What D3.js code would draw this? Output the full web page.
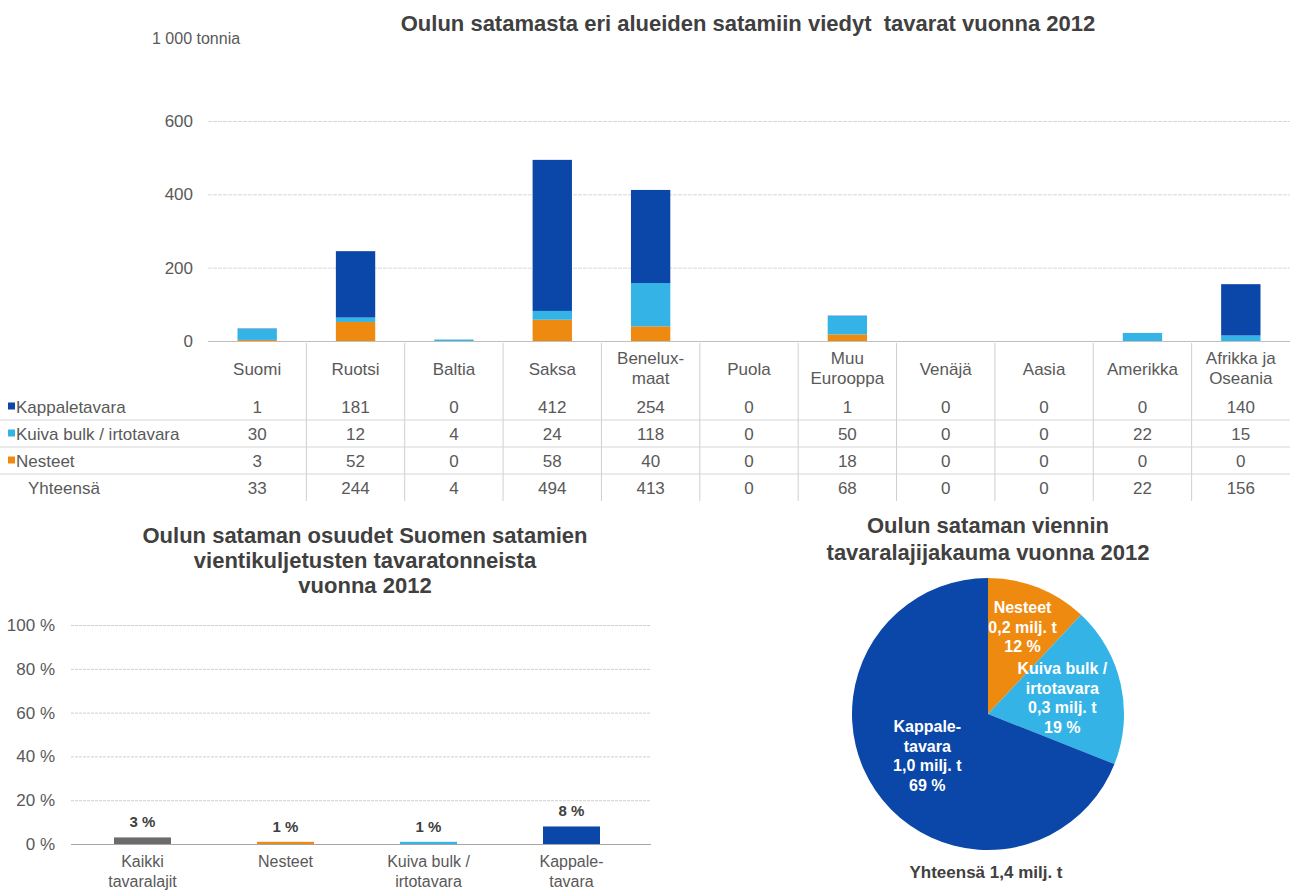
<!DOCTYPE html>
<html lang="fi">
<head>
<meta charset="utf-8">
<script src="https://cdn.jsdelivr.net/npm/d3@7"></script>
<style>
  html, body { margin: 0; padding: 0; background: #fff; }
  svg { display: block; font-family: "Liberation Sans", Arial, sans-serif; }
</style>
</head>
<body>
<svg id="chart" width="1290" height="895"></svg>
<script>
// ---- Data: Oulun sataman vienti 2012 (1 000 tonnia) ----
const regions = ["Suomi", "Ruotsi", "Baltia", "Saksa", "Benelux-\nmaat", "Puola",
                 "Muu\nEurooppa", "Venäjä", "Aasia", "Amerikka", "Afrikka ja\nOseania"];
const kappaletavara = [1, 181, 0, 412, 254, 0, 1, 0, 0, 0, 140];
const kuivaBulk     = [30, 12, 4, 24, 118, 0, 50, 0, 0, 22, 15];
const nesteet       = [3, 52, 0, 58, 40, 0, 18, 0, 0, 0, 0];
const yhteensa      = [33, 244, 4, 494, 413, 0, 68, 0, 0, 22, 156];
const yTicks = [0, 200, 400, 600];

// Osuudet Suomen satamien vientikuljetuksista (%)
const shareCategories = ["Kaikki\ntavaralajit", "Nesteet", "Kuiva bulk /\nirtotavara", "Kappale-\ntavara"];
const shareValues = [3, 1, 1, 8];
const shareTicks = [0, 20, 40, 60, 80, 100];

// Tavaralajijakauma (%)
const pieNames = ["Nesteet", "Kuiva bulk /\nirtotavara", "Kappale-\ntavara"];
const pieShares = [12, 19, 69];
const pieTonnes = ["0,2 milj. t", "0,3 milj. t", "1,0 milj. t"];

const C = { dark: "#0a47a9", light: "#33b3e6", orange: "#ef8a11", gray: "#6b6b6b",
            text: "#595959", title: "#404040", grid: "#d9d9d9" };
const FONT = "Liberation Sans, Arial, sans-serif";

const svg = d3.select("#chart");

// ================= Top: stacked bars with data table =================
const mainArea = { left: 208, right: 1290, y0: 341, y1: 121 };
const x = d3.scaleBand().domain(d3.range(regions.length)).range([mainArea.left, mainArea.right]);
const y = d3.scaleLinear().domain([0, 600]).range([mainArea.y0, mainArea.y1]);

svg.append("text")
  .attr("x", 748).attr("y", 31).attr("text-anchor", "middle")
  .attr("font-size", 22).attr("font-weight", "bold").attr("fill", C.title)
  .attr("xml:space", "preserve")
  .text("Oulun satamasta eri alueiden satamiin viedyt  tavarat vuonna 2012");

svg.append("text")
  .attr("x", 152).attr("y", 44).attr("font-size", 16).attr("fill", C.text)
  .text("1 000 tonnia");

// grid + tick labels
const yAxis = d3.axisLeft(y).tickValues(yTicks).tickSize(-(mainArea.right - mainArea.left)).tickFormat(d3.format("d"));
const gy = svg.append("g").attr("transform", `translate(${mainArea.left},0)`).call(yAxis);
gy.select(".domain").remove();
gy.selectAll(".tick line")
  .attr("stroke", d => d === 0 ? "#bfbfbf" : C.grid)
  .attr("stroke-dasharray", d => d === 0 ? null : "4,1");
gy.selectAll(".tick text").attr("x", -15).attr("font-size", 17).attr("fill", C.text)
  .attr("font-family", FONT);

// stacked bars: Nesteet at the bottom, then Kuiva bulk, then Kappaletavara
const rows = regions.map((r, i) => ({ i, nesteet: nesteet[i], kuiva: kuivaBulk[i], kappale: kappaletavara[i] }));
const stack = d3.stack().keys(["nesteet", "kuiva", "kappale"]);
const seriesColor = { nesteet: C.orange, kuiva: C.light, kappale: C.dark };
const barW = x.bandwidth() * 0.4;
svg.append("g").selectAll("g").data(stack(rows)).join("g")
  .attr("fill", s => seriesColor[s.key])
  .selectAll("rect").data(s => s).join("rect")
  .attr("x", d => x(d.data.i) + (x.bandwidth() - barW) / 2)
  .attr("width", barW)
  .attr("y", d => y(d[1]))
  .attr("height", d => Math.max(0, y(d[0]) - y(d[1])));

// data table
const tableRows = [
  { label: "Kappaletavara", values: kappaletavara, color: C.dark },
  { label: "Kuiva bulk / irtotavara", values: kuivaBulk, color: C.light },
  { label: "Nesteet", values: nesteet, color: C.orange },
  { label: "Yhteensä", values: yhteensa, color: null }
];
const headerTop = 343, headerBottom = 393, rowH = 27;
const table = svg.append("g");

// column separators
table.selectAll("line.col").data(d3.range(1, regions.length)).join("line")
  .attr("x1", i => x(i)).attr("x2", i => x(i))
  .attr("y1", headerTop).attr("y2", headerBottom + rowH * tableRows.length)
  .attr("stroke", "#cfcfcf");
// row separators
table.selectAll("line.row").data(d3.range(1, tableRows.length)).join("line")
  .attr("x1", 0).attr("x2", mainArea.right)
  .attr("y1", k => headerBottom + rowH * k).attr("y2", k => headerBottom + rowH * k)
  .attr("stroke", "#d6d6d6");

// category header
table.selectAll("text.head").data(regions).join("text")
  .attr("text-anchor", "middle").attr("font-size", 17).attr("fill", C.text)
  .attr("x", (d, i) => x(i) + x.bandwidth() / 2)
  .each(function (d) {
    const lines = d.split("\n");
    const t = d3.select(this);
    const y0 = lines.length === 1 ? 375 : 364;
    lines.forEach((ln, k) => t.append("tspan")
      .attr("x", t.attr("x")).attr("y", y0 + k * 20).text(ln));
  });

// table body
tableRows.forEach((r, k) => {
  const cy = headerBottom + rowH * k + rowH / 2 + 6;
  if (r.color) {
    table.append("rect").attr("x", 8).attr("y", cy - 10).attr("width", 7).attr("height", 7).attr("fill", r.color);
  }
  table.append("text").attr("x", r.color ? 16 : 28).attr("y", cy)
    .attr("font-size", 17).attr("fill", C.text).text(r.label);
  table.append("g").selectAll("text").data(r.values).join("text")
    .attr("x", (d, i) => x(i) + x.bandwidth() / 2).attr("y", cy)
    .attr("text-anchor", "middle").attr("font-size", 17).attr("fill", C.text)
    .text(d => d);
});

// ================= Bottom left: shares of Finnish export tonnage =================
const bl = { left: 71, right: 643, y0: 844, y1: 625 };
const xs = d3.scaleBand().domain(d3.range(shareCategories.length)).range([bl.left, bl.right]);
const ys = d3.scaleLinear().domain([0, 100]).range([bl.y0, bl.y1]);
const shareColors = [C.gray, C.orange, C.light, C.dark];

const blTitle = ["Oulun sataman osuudet Suomen satamien", "vientikuljetusten tavaratonneista", "vuonna 2012"];
svg.append("text").attr("text-anchor", "middle").attr("font-size", 22).attr("font-weight", "bold").attr("fill", C.title)
  .selectAll("tspan").data(blTitle).join("tspan")
  .attr("x", 365).attr("y", (d, i) => 543 + i * 25).text(d => d);

const gys = svg.append("g").attr("transform", `translate(${bl.left},0)`)
  .call(d3.axisLeft(ys).tickValues(shareTicks).tickSize(-(bl.right - bl.left + 8)).tickFormat(d => d + " %"));
gys.select(".domain").remove();
gys.selectAll(".tick line")
  .attr("stroke", d => d === 0 ? "#a6a6a6" : "#cfcfcf")
  .attr("stroke-dasharray", d => d === 0 ? null : "3,1");
gys.selectAll(".tick text").attr("x", -16).attr("font-size", 17).attr("fill", C.text)
  .attr("font-family", FONT);

const sBarW = 57;
svg.append("g").selectAll("rect").data(shareValues).join("rect")
  .attr("x", (d, i) => xs(i) + (xs.bandwidth() - sBarW) / 2)
  .attr("width", sBarW)
  .attr("y", d => ys(d))
  .attr("height", d => ys(0) - ys(d))
  .attr("fill", (d, i) => shareColors[i]);

svg.append("g").selectAll("text").data(shareValues).join("text")
  .attr("x", (d, i) => xs(i) + xs.bandwidth() / 2)
  .attr("y", d => ys(d) - 10)
  .attr("text-anchor", "middle").attr("font-size", 15).attr("font-weight", "bold").attr("fill", C.title)
  .text(d => d + " %");

svg.append("g").selectAll("text").data(shareCategories).join("text")
  .attr("text-anchor", "middle").attr("font-size", 16).attr("fill", C.text)
  .each(function (d, i) {
    const t = d3.select(this);
    d.split("\n").forEach((ln, k) => t.append("tspan")
      .attr("x", xs(i) + xs.bandwidth() / 2).attr("y", 867 + k * 20).text(ln));
  });

// ================= Bottom right: pie of cargo types =================
const pc = { x: 988, y: 714, r: 136 };
const pieTitle = ["Oulun sataman viennin", "tavaralajijakauma vuonna 2012"];
svg.append("text").attr("text-anchor", "middle").attr("font-size", 22).attr("font-weight", "bold").attr("fill", C.title)
  .selectAll("tspan").data(pieTitle).join("tspan")
  .attr("x", pc.x).attr("y", (d, i) => 533 + i * 27).text(d => d);

const pieColors = [C.orange, C.light, C.dark];
const arcs = d3.pie().sort(null).value(d => d)(pieShares);
const arc = d3.arc().innerRadius(0).outerRadius(pc.r);
const gp = svg.append("g").attr("transform", `translate(${pc.x},${pc.y})`);
gp.selectAll("path").data(arcs).join("path")
  .attr("d", arc).attr("fill", (d, i) => pieColors[i]);

const labelR = [0.69, 0.56, 0.54];
gp.selectAll("text").data(arcs).join("text")
  .attr("text-anchor", "middle").attr("font-size", 16).attr("font-weight", "bold").attr("fill", "#fff")
  .each(function (d, i) {
    const [cx, cy] = d3.arc().innerRadius(pc.r * labelR[i]).outerRadius(pc.r * labelR[i]).centroid(d);
    const lines = pieNames[i].split("\n").concat([pieTonnes[i], pieShares[i] + " %"]);
    const t = d3.select(this);
    const lh = 19.5;
    const startY = cy - (lines.length - 1) * lh / 2 + 6;
    lines.forEach((ln, k) => t.append("tspan").attr("x", cx).attr("y", startY + k * lh).text(ln));
  });

svg.append("text").attr("x", 986).attr("y", 878).attr("text-anchor", "middle")
  .attr("font-size", 17).attr("font-weight", "bold").attr("fill", C.title)
  .text("Yhteensä 1,4 milj. t");
</script>
</body>
</html>
